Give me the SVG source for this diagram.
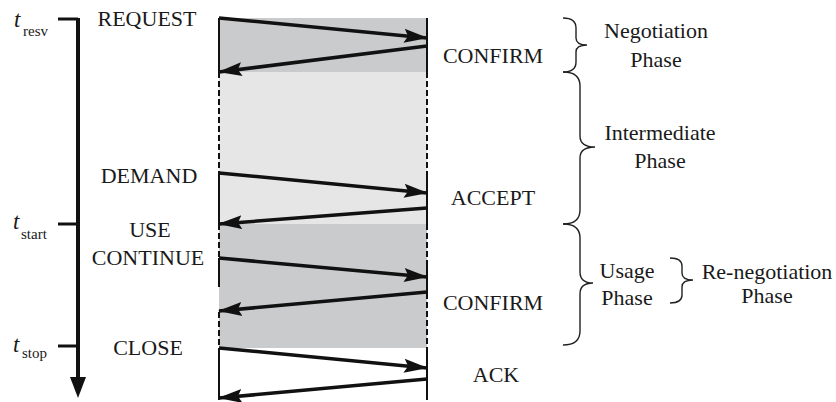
<svg xmlns="http://www.w3.org/2000/svg" width="836" height="402" viewBox="0 0 836 402" font-family="'Liberation Serif', 'DejaVu Serif', serif">
  <style>
    text { font-family: 'Liberation Serif', 'DejaVu Serif', serif; font-size: 22px; fill: #1a1a1a; }
    .mid { text-anchor: middle; }
    .ti { font-style: italic; font-size: 23px; }
    .sub { font-size: 15px; }
    .msg { stroke: #111; stroke-width: 3.5; fill: none; marker-end: url(#head); }
    .life { stroke: #111; stroke-width: 2; fill: none; }
    .dash { stroke-dasharray: 6 3; }
    .brace { stroke: #222; stroke-width: 1.4; fill: none; }
    .tick { stroke: #111; stroke-width: 3; }
  </style>
  <defs>
    <marker id="head" markerUnits="userSpaceOnUse" markerWidth="24" markerHeight="16" viewBox="0 0 24 16" refX="23" refY="8" orient="auto">
      <path d="M0,1 L24,8 L0,15 L4,8 Z" fill="#111"/>
    </marker>
  </defs>

  <!-- phase shading between the two endpoints -->
  <g id="shading">
    <rect x="219" y="18" width="208" height="54" fill="#cacbcc"/>
    <rect x="219" y="72" width="208" height="152" fill="#e6e6e6"/>
    <rect x="219" y="224" width="208" height="124" fill="#cacbcc"/>
  </g>

  <!-- time axis -->
  <g id="time-axis">
    <line x1="78" y1="18" x2="78" y2="380" stroke="#111" stroke-width="4"/>
    <path d="M70,377 L86,377 L78,398 Z" fill="#111"/>
    <line class="tick" x1="58" y1="19" x2="78" y2="19"/>
    <line class="tick" x1="58" y1="224" x2="78" y2="224"/>
    <line class="tick" x1="58" y1="346" x2="78" y2="346"/>
    <text class="ti" x="14" y="27">t</text><text class="sub" x="23" y="36">resv</text>
    <text class="ti" x="13" y="229">t</text><text class="sub" x="21" y="239">start</text>
    <text class="ti" x="13" y="352">t</text><text class="sub" x="22" y="358">stop</text>
  </g>

  <!-- left endpoint lifeline -->
  <g id="left-lifeline">
    <line class="life" x1="219" y1="18" x2="219" y2="72"/>
    <line class="life dash" x1="219" y1="72" x2="219" y2="173"/>
    <line class="life" x1="219" y1="173" x2="219" y2="224"/>
    <line class="life dash" x1="219" y1="224" x2="219" y2="258"/>
    <line class="life" x1="219" y1="258" x2="219" y2="287"/>
    <line class="life dash" x1="219" y1="312" x2="219" y2="348"/>
    <line class="life" x1="219" y1="348" x2="219" y2="400"/>
  </g>

  <!-- right endpoint lifeline -->
  <g id="right-lifeline">
    <line class="life" x1="427" y1="18" x2="427" y2="72"/>
    <line class="life dash" x1="427" y1="72" x2="427" y2="173"/>
    <line class="life" x1="427" y1="173" x2="427" y2="224"/>
    <line class="life dash" x1="427" y1="224" x2="427" y2="262"/>
    <line class="life" x1="427" y1="262" x2="427" y2="293"/>
    <line class="life dash" x1="427" y1="293" x2="427" y2="348"/>
    <line class="life" x1="427" y1="348" x2="427" y2="400"/>
  </g>

  <!-- message exchanges -->
  <g id="connectors">
    <line class="msg" x1="219" y1="18" x2="427" y2="38"/>
    <line class="msg" x1="427" y1="46" x2="219" y2="72"/>
    <line class="msg" x1="219" y1="173" x2="427" y2="193"/>
    <line class="msg" x1="427" y1="208" x2="219" y2="224"/>
    <line class="msg" x1="219" y1="258" x2="427" y2="277"/>
    <line class="msg" x1="427" y1="292" x2="219" y2="311"/>
    <line class="msg" x1="219" y1="348" x2="427" y2="368"/>
    <line class="msg" x1="427" y1="379" x2="219" y2="398"/>
  </g>

  <!-- message labels -->
  <g id="labels">
    <text class="mid" x="147" y="26">REQUEST</text>
    <text class="mid" x="493" y="63">CONFIRM</text>
    <text class="mid" x="149" y="183">DEMAND</text>
    <text class="mid" x="493" y="205">ACCEPT</text>
    <text class="mid" x="150" y="237">USE</text>
    <text class="mid" x="148" y="265">CONTINUE</text>
    <text class="mid" x="493" y="310">CONFIRM</text>
    <text class="mid" x="148" y="355">CLOSE</text>
    <text class="mid" x="496" y="382">ACK</text>
  </g>

  <!-- phase braces -->
  <g id="phase-negotiation">
    <path class="brace" d="M563,18 Q576,18 576,28 L576,38 Q576,45 587,45 Q576,45 576,52 L576,62 Q576,72 563,72"/>
    <text class="mid" x="656" y="38">Negotiation</text>
    <text class="mid" x="656" y="67">Phase</text>
  </g>
  <g id="phase-intermediate">
    <path class="brace" d="M563,72 Q580,72 580,86 L580,136 Q580,147 595,147 Q580,147 580,158 L580,210 Q580,224 563,224"/>
    <text class="mid" x="660" y="140">Intermediate</text>
    <text class="mid" x="660" y="168">Phase</text>
  </g>
  <g id="phase-usage">
    <path class="brace" d="M563,224 Q580,224 580,238 L580,272 Q580,283 593,283 Q580,283 580,294 L580,331 Q580,345 563,345"/>
    <text class="mid" x="627" y="278">Usage</text>
    <text class="mid" x="627" y="305">Phase</text>
  </g>
  <g id="phase-renegotiation">
    <path class="brace" d="M670,258 Q682,258 682,266 L682,273 Q682,280 693,280 Q682,280 682,287 L682,295 Q682,303 670,303"/>
    <text class="mid" x="767" y="279">Re-negotiation</text>
    <text class="mid" x="767" y="303">Phase</text>
  </g>
</svg>
